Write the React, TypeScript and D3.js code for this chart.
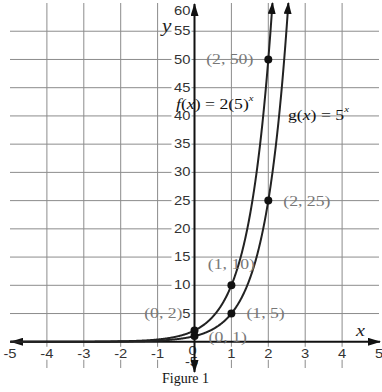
import React from "react";
import * as d3 from "d3";

// ---- data ----
const xTickValues = [-5, -4, -3, -2, -1, 1, 2, 3, 4, 5];
const xGridValues = [-4, -3, -2, -1, 1, 2, 3, 4];
const yTickValues = [5, 10, 15, 20, 25, 30, 35, 40, 45, 50, 55, 60];
const yGridValues = [5, 10, 15, 20, 25, 30, 35, 40, 45, 50, 55];
const fCoef = 2;
const fBase = 5;
const gCoef = 1;
const gBase = 5;
const fPointsX = [0, 1, 2];
const fPointsY = [2, 10, 50];
const fPointLabels = ["(0, 2)", "(1, 10)", "(2, 50)"];
const gPointsX = [0, 1, 2];
const gPointsY = [1, 5, 25];
const gPointLabels = ["(0, 1)", "(1, 5)", "(2, 25)"];

// label layout offsets (dx, dy, anchor)
const fLabelLayout: [number, number, string][] = [
  [-12, -18, "end"],
  [0, -21, "middle"],
  [-15, 0, "end"],
];
const gLabelLayout: [number, number, string][] = [
  [14, 1, "start"],
  [15, -1, "start"],
  [15, 0, "start"],
];

const W = 382;
const H = 392;
const SX = 1.18;

const x = d3.scaleLinear().domain([-5, 5]).range([10, 379]);
const y = d3.scaleLinear().domain([-5, 60]).range([370, 3]);

function T(props: any) {
  const { x: tx, y: ty, anchor = "start", size = 12, family, style, fill = "#222", children } = props;
  return (
    <text
      transform={`translate(${tx},${ty}) scale(${SX},1)`}
      textAnchor={anchor}
      dominantBaseline="central"
      fontSize={size}
      fontFamily={family}
      fontStyle={style}
      fill={fill}
    >
      {children}
    </text>
  );
}

function curvePath(coef: number, base: number) {
  const xEnd = Math.log(60 / coef) / Math.log(base);
  const xs = d3.range(-5, xEnd, 0.01).concat([xEnd]);
  const line = d3
    .line<number>()
    .x((v) => x(v))
    .y((v) => y(coef * Math.pow(base, v)));
  return line(xs) || "";
}

export default function App() {
  const sans = "Liberation Sans, Arial, sans-serif";
  const serif = "Liberation Serif, Times New Roman, serif";
  const x0 = x(0);
  const y0 = y(0);
  return (
    <svg
      width={W}
      height={H}
      style={{ position: "absolute", left: 0, top: 0, background: "#fff" }}
    >
      <defs>
        <marker
          id="arr"
          viewBox="0 0 12 8"
          refX={11}
          refY={4}
          markerWidth={12}
          markerHeight={8}
          markerUnits="userSpaceOnUse"
          orient="auto"
        >
          <path d="M0,0 L12,4 L0,8 Z" fill="#111" />
        </marker>
        <marker
          id="arrAxis"
          viewBox="0 0 13 8"
          refX={12}
          refY={4}
          markerWidth={13}
          markerHeight={8}
          markerUnits="userSpaceOnUse"
          orient="auto-start-reverse"
        >
          <path d="M0,0 L13,4 L0,8 Z" fill="#111" />
        </marker>
      </defs>
      {/* grid */}
      <g stroke="#8c8c8c" strokeWidth={1}>
        {xGridValues.map((v) => (
          <line key={"gx" + v} x1={x(v)} x2={x(v)} y1={y(60)} y2={y(-5) - 2} />
        ))}
        {yGridValues.map((v) => (
          <line key={"gy" + v} x1={x(-5)} x2={x(5)} y1={y(v)} y2={y(v)} />
        ))}
      </g>
      {/* tick label backgrounds */}
      <g fill="#fff">
        {xTickValues.map((v) => (
          <rect key={"bx" + v} x={x(v) - 8} y={y0 + 5} width={16} height={13} />
        ))}
        {yTickValues.map((v) => (
          <rect key={"by" + v} x={x0 - 23} y={Math.max(y(v), 11) - 6} width={20} height={12} />
        ))}
      </g>
      {/* tick labels */}
      <g>
        {xTickValues.map((v) => (
          <T key={"tx" + v} x={x(v)} y={y0 + 12} anchor="middle" size={12.5} family={sans} fill="#333">
            {String(v)}
          </T>
        ))}
        <T x={x0 - 2} y={y0 + 9} anchor="middle" size={12.5} family={sans} fill="#333">0</T>
        <T x={x0 - 3} y={y0 + 20} anchor="middle" size={12.5} family={sans} fill="#333">-5</T>
        {yTickValues.map((v) => (
          <T key={"ty" + v} x={x0 - 4} y={Math.max(y(v), 11)} anchor="end" size={12.5} family={sans} fill="#333">
            {String(v)}
          </T>
        ))}
      </g>
      {/* axes */}
      <line
        x1={x(-5) + 1}
        x2={x(5) + 1}
        y1={y0}
        y2={y0}
        stroke="#111"
        strokeWidth={2}
        markerStart="url(#arrAxis)"
        markerEnd="url(#arrAxis)"
      />
      <line
        x1={x0}
        x2={x0}
        y1={372}
        y2={4}
        stroke="#111"
        strokeWidth={2}
        markerStart="url(#arrAxis)"
        markerEnd="url(#arrAxis)"
      />
      {/* curves */}
      <path d={curvePath(fCoef, fBase)} fill="none" stroke="#222" strokeWidth={2} markerEnd="url(#arr)" />
      <path d={curvePath(gCoef, gBase)} fill="none" stroke="#222" strokeWidth={2} markerEnd="url(#arr)" />
      {/* points */}
      {fPointsX.map((px, i) => (
        <circle key={"fp" + i} cx={x(px)} cy={y(fPointsY[i])} r={4} fill="#111" />
      ))}
      {gPointsX.map((px, i) => (
        <circle key={"gp" + i} cx={x(px)} cy={y(gPointsY[i])} r={4} fill="#111" />
      ))}
      {/* point labels */}
      {fPointsX.map((px, i) => (
        <T
          key={"fl" + i}
          x={x(px) + fLabelLayout[i][0]}
          y={y(fPointsY[i]) + fLabelLayout[i][1]}
          anchor={fLabelLayout[i][2]}
          size={15}
          family={serif}
          fill="#777"
        >
          {fPointLabels[i]}
        </T>
      ))}
      {gPointsX.map((px, i) => (
        <T
          key={"gl" + i}
          x={x(px) + gLabelLayout[i][0]}
          y={y(gPointsY[i]) + gLabelLayout[i][1]}
          anchor={gLabelLayout[i][2]}
          size={15}
          family={serif}
          fill="#777"
        >
          {gPointLabels[i]}
        </T>
      ))}
      {/* function labels */}
      <T x={176} y={104} size={15} family={serif} fill="#111">
        <tspan fontStyle="italic">f</tspan>(<tspan fontStyle="italic">x</tspan>) = 2(5)
        <tspan fontSize={9} dy={-7} fontStyle="italic">x</tspan>
      </T>
      <T x={288} y={115} size={15} family={serif} fill="#111">
        g(<tspan fontStyle="italic">x</tspan>) = 5
        <tspan fontSize={9} dy={-7} fontStyle="italic">x</tspan>
      </T>
      {/* axis titles */}
      <T x={162} y={26} size={18} family={serif} style="italic" fill="#222">y</T>
      <T x={356} y={330} size={17} family={serif} style="italic" fill="#222">x</T>
      {/* caption */}
      <text x={162} y={383} fontSize={14} fontFamily={serif} fill="#111">Figure 1</text>
    </svg>
  );
}
